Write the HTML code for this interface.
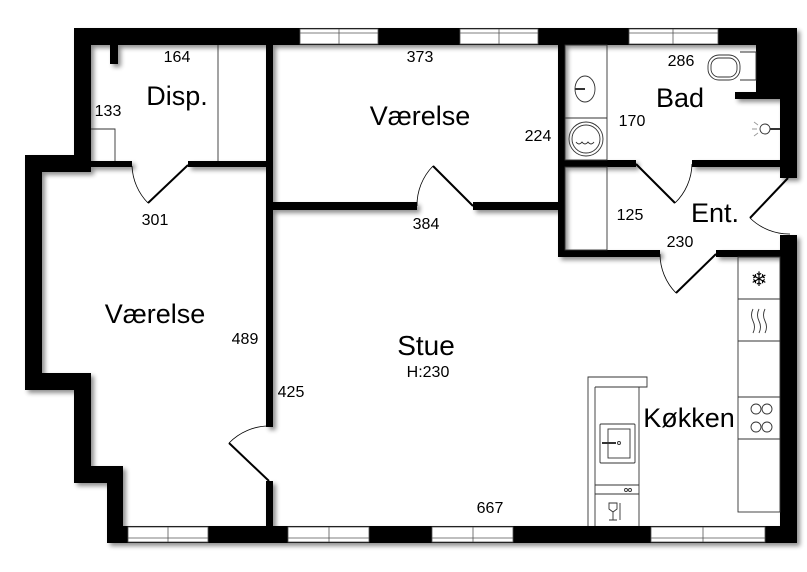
<!DOCTYPE html>
<html><head><meta charset="utf-8"><style>
html,body{margin:0;padding:0;background:#fff;}
svg{display:block;}
text{font-family:"Liberation Sans",sans-serif;fill:#000;}
</style></head><body>
<svg width="807" height="572" viewBox="0 0 807 572" xmlns="http://www.w3.org/2000/svg">
<defs>
<filter id="sh" x="-10%" y="-10%" width="120%" height="120%">
<feGaussianBlur in="SourceAlpha" stdDeviation="2.5"/>
<feOffset dx="3" dy="3"/>
<feComponentTransfer><feFuncA type="linear" slope="0.45"/></feComponentTransfer>
<feMerge><feMergeNode/><feMergeNode in="SourceGraphic"/></feMerge>
</filter>
</defs>
<rect width="807" height="572" fill="#fff"/>

<g filter="url(#sh)" fill="#000">
<rect x="74" y="28" width="723" height="17"/>
<rect x="74" y="28" width="17" height="144"/>
<rect x="25" y="155" width="66" height="17"/>
<rect x="25" y="155" width="17" height="235"/>
<rect x="25" y="373" width="66" height="17"/>
<rect x="74" y="373" width="17" height="110"/>
<rect x="74" y="466" width="49" height="17"/>
<rect x="107" y="466" width="16" height="77"/>
<rect x="107" y="526" width="690" height="17"/>
<rect x="756" y="28" width="41" height="64"/>
<rect x="735" y="92" width="62" height="7"/>
<rect x="780" y="92" width="17" height="86"/>
<rect x="780" y="235" width="17" height="308"/>
<rect x="110" y="45" width="8" height="19"/>
<rect x="91" y="161" width="41" height="6"/>
<rect x="188" y="161" width="78" height="6"/>
<rect x="266" y="45" width="7" height="382"/>
<rect x="266" y="481" width="7" height="45"/>
<rect x="273" y="202" width="144" height="8"/>
<rect x="473" y="202" width="85" height="8"/>
<rect x="558" y="45" width="7" height="212"/>
<rect x="558" y="250" width="102" height="7"/>
<rect x="716" y="250" width="64" height="7"/>
<rect x="565" y="160" width="71" height="7"/>
<rect x="692" y="160" width="88" height="7"/>
</g>

<g fill="#fff" stroke="#555" stroke-width="0.8">
<rect x="300" y="29" width="78" height="15"/>
<rect x="460" y="29" width="78" height="15"/>
<rect x="629" y="29" width="89" height="15"/>
<rect x="128" y="527" width="80" height="15"/>
<rect x="288" y="527" width="81" height="15"/>
<rect x="432" y="527" width="81" height="15"/>
<rect x="651" y="527" width="114" height="15"/>
</g>
<g stroke="#555" stroke-width="0.8">
<line x1="300" y1="33" x2="378" y2="33"/><line x1="339" y1="29" x2="339" y2="44"/>
<line x1="460" y1="33" x2="538" y2="33"/><line x1="499" y1="29" x2="499" y2="44"/>
<line x1="629" y1="33" x2="718" y2="33"/><line x1="673" y1="29" x2="673" y2="44"/>
<line x1="128" y1="538" x2="208" y2="538"/><line x1="168" y1="527" x2="168" y2="542"/>
<line x1="288" y1="538" x2="369" y2="538"/><line x1="329" y1="527" x2="329" y2="542"/>
<line x1="432" y1="538" x2="513" y2="538"/><line x1="473" y1="527" x2="473" y2="542"/>
<line x1="651" y1="538" x2="765" y2="538"/><line x1="703" y1="527" x2="703" y2="542"/>
</g>

<g fill="none" stroke="#333" stroke-width="0.9">
<line x1="218" y1="45" x2="218" y2="161"/>
<path d="M91 129 H115 V161"/>
<rect x="565" y="45" width="42" height="115"/>
<line x1="565" y1="118" x2="607" y2="118"/>
<rect x="565" y="167" width="42" height="83"/>
<ellipse cx="585" cy="89" rx="10" ry="13"/>
<line x1="575" y1="89" x2="585" y2="89" stroke-width="2"/>
<circle cx="586" cy="139" r="17"/><circle cx="586" cy="139" r="14"/>
<path d="M576 142 q3 4 6 0 q3 4 6 0 q3 4 6 0"/>
<rect x="708" y="55" width="32" height="25" rx="11"/>
<rect x="711" y="58" width="26" height="19" rx="8"/>
<path d="M740 52 h16 v28 h-16"/>
<circle cx="765" cy="129" r="5"/>
<line x1="770" y1="129" x2="780" y2="129" stroke-width="2"/>
<path d="M752 129 h5 M754 122 l4 3 M754 136 l4 -3" stroke="#999"/>
<rect x="738" y="257" width="42" height="255"/>
<line x1="738" y1="299" x2="780" y2="299"/>
<line x1="738" y1="341" x2="780" y2="341"/>
<line x1="738" y1="397" x2="780" y2="397"/>
<line x1="738" y1="439" x2="780" y2="439"/>
<path d="M753 309 q-3 6 0 12 q3 6 0 12 M759 309 q-3 6 0 12 q3 6 0 12 M765 309 q-3 6 0 12 q3 6 0 12"/>
<circle cx="756" cy="409" r="5"/><circle cx="767" cy="409" r="5"/>
<circle cx="756" cy="427" r="5"/><circle cx="767" cy="427" r="5"/>
<path d="M588 526 V377 H647 V387 H639 V526"/>
<line x1="595" y1="387" x2="595" y2="526"/>
<line x1="595" y1="387" x2="639" y2="387"/>
<rect x="600" y="424" width="35" height="39" rx="1"/>
<rect x="608" y="429" width="22" height="29"/>
<line x1="602" y1="443" x2="616" y2="443" stroke-width="2"/>
<circle cx="619" cy="443" r="1.5"/>
<line x1="595" y1="485" x2="639" y2="485"/>
<line x1="595" y1="494" x2="639" y2="494"/>
<circle cx="626" cy="490" r="1.5"/><circle cx="630" cy="490" r="1.5"/>
<path d="M609 503 h8 v6 l-4 3 l-4 -3z M613 512 v8 M609 520 h8 M620 503 v17"/>
</g>
<text x="759" y="286" font-size="20" text-anchor="middle" fill="#333">❄</text>

<g fill="none" stroke="#000">
<line x1="188" y1="165" x2="148" y2="203" stroke-width="2"/>
<path d="M132 166 A56 56 0 0 0 148 203" stroke-width="0.8"/>
<line x1="473" y1="206" x2="433" y2="166" stroke-width="2"/>
<path d="M417 206 A56 56 0 0 1 433 166" stroke-width="0.8"/>
<line x1="636" y1="164" x2="675" y2="203" stroke-width="2"/>
<path d="M692 164 A56 56 0 0 1 675 203" stroke-width="0.8"/>
<line x1="788" y1="178" x2="750" y2="218" stroke-width="2"/>
<path d="M750 218 A56 56 0 0 0 790 234" stroke-width="0.8"/>
<line x1="716" y1="254" x2="676" y2="293" stroke-width="2"/>
<path d="M660 254 A56 56 0 0 0 676 293" stroke-width="0.8"/>
<line x1="269" y1="481" x2="229" y2="443" stroke-width="2"/>
<path d="M229 443 A56 56 0 0 1 269 426" stroke-width="0.8"/>
</g>

<g font-size="16">
<text x="177" y="62" text-anchor="middle">164</text>
<text x="108" y="116" text-anchor="middle">133</text>
<text x="155" y="225" text-anchor="middle">301</text>
<text x="420" y="62" text-anchor="middle">373</text>
<text x="538" y="141" text-anchor="middle">224</text>
<text x="681" y="66" text-anchor="middle">286</text>
<text x="632" y="126" text-anchor="middle">170</text>
<text x="630" y="220" text-anchor="middle">125</text>
<text x="680" y="247" text-anchor="middle">230</text>
<text x="426" y="229" text-anchor="middle">384</text>
<text x="245" y="344" text-anchor="middle">489</text>
<text x="291" y="397" text-anchor="middle">425</text>
<text x="428" y="377" text-anchor="middle">H:230</text>
<text x="490" y="513" text-anchor="middle">667</text>
</g>
<g font-size="27">
<text x="177" y="105" text-anchor="middle">Disp.</text>
<text x="420" y="125" text-anchor="middle">Værelse</text>
<text x="680" y="107" text-anchor="middle">Bad</text>
<text x="715" y="222" text-anchor="middle">Ent.</text>
<text x="155" y="323" text-anchor="middle">Værelse</text>
<text x="426" y="355" text-anchor="middle" font-size="28">Stue</text>
<text x="689" y="427" text-anchor="middle">Køkken</text>
</g>
</svg>
</body></html>
